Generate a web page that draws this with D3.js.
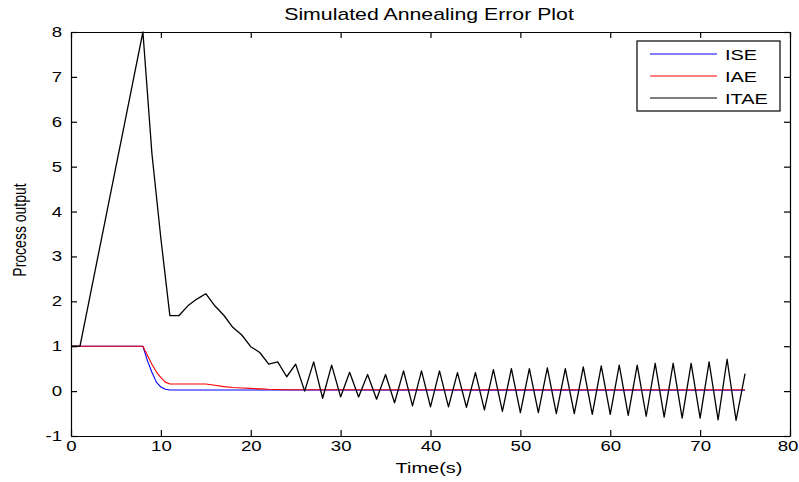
<!DOCTYPE html>
<html>
<head>
<meta charset="utf-8">
<script src="https://cdn.jsdelivr.net/npm/d3@7"></script>
<style>
  body { margin: 0; background: #fff; }
  svg text { font-family: "Liberation Sans", Arial, sans-serif; fill: #000; }
</style>
</head>
<body>
<div id="chart"></div>
<script>
// axis ticks
const xTicks = [0, 10, 20, 30, 40, 50, 60, 70, 80];
const yTicks = [-1, 0, 1, 2, 3, 4, 5, 6, 7, 8];

const seriesNames = ["ISE", "IAE", "ITAE"];
const seriesColors = ["#0000ff", "#ff0000", "#000000"];

// ISE (blue)
const iseTime  = [0, 8, 8.5, 9, 9.5, 10, 10.5, 11, 75];
const iseValue = [1, 1, 0.68, 0.42, 0.2, 0.09, 0.04, 0.025, 0.02];

// IAE (red)
const iaeTime  = [0, 8, 8.5, 9, 9.5, 10, 10.5, 11, 15, 16, 17, 18, 19, 20, 21, 22, 24, 75];
const iaeValue = [1, 1, 0.8, 0.6, 0.43, 0.3, 0.2, 0.16, 0.16, 0.13, 0.1, 0.08, 0.07, 0.06, 0.05, 0.04, 0.03, 0.03];

// ITAE (black)
const itaeTime = [0, 1, 2, 3, 4, 5, 6, 7, 8, 9, 10, 11, 12, 13, 14, 15, 16, 17, 18, 19,
  20, 21, 22, 23, 24, 25, 26, 27, 28, 29, 30, 31, 32, 33, 34, 35, 36, 37, 38, 39,
  40, 41, 42, 43, 44, 45, 46, 47, 48, 49, 50, 51, 52, 53, 54, 55, 56, 57, 58, 59,
  60, 61, 62, 63, 64, 65, 66, 67, 68, 69, 70, 71, 72, 73, 74, 75];
const itaeValue = [1, 1, 2, 3, 4, 5, 6, 7, 8, 5.3, 3.4, 1.68, 1.68, 1.9, 2.05, 2.17, 1.9, 1.69, 1.42, 1.25,
  0.99, 0.86, 0.6, 0.65, 0.32, 0.6, 0.0, 0.65, -0.16, 0.58, -0.13, 0.42, -0.13, 0.37, -0.18, 0.37, -0.26, 0.45, -0.33, 0.45,
  -0.35, 0.45, -0.35, 0.41, -0.36, 0.41, -0.42, 0.48, -0.45, 0.5, -0.48, 0.5, -0.48, 0.52, -0.5, 0.5, -0.5, 0.54, -0.52, 0.56,
  -0.52, 0.58, -0.54, 0.58, -0.56, 0.62, -0.58, 0.62, -0.6, 0.62, -0.6, 0.65, -0.64, 0.71, -0.65, 0.39];

const seriesTimes = [iseTime, iaeTime, itaeTime];
const seriesValues = [iseValue, iaeValue, itaeValue];

// the picture is stretched sideways, so text is too
const sx = 1.33;

const margin = { top: 32, right: 9, bottom: 46, left: 71 },
      width = 799 - margin.left - margin.right,
      height = 482 - margin.top - margin.bottom;

const root = d3.select("#chart")
  .append("svg")
  .attr("width", 799)
  .attr("height", 482);

const svg = root.append("g")
  .attr("transform", `translate(${margin.left},${margin.top})`);

const x = d3.scaleLinear().domain([0, 80]).range([0, width]);
const y = d3.scaleLinear().domain([-1, 8]).range([height, 0]);

// data lines
const line = d3.line()
  .x(d => x(d[0]))
  .y(d => y(d[1]));

seriesNames.forEach((name, i) => {
  const pts = seriesTimes[i].map((t, j) => [t, seriesValues[i][j]]);
  svg.append("path")
    .datum(pts)
    .attr("fill", "none")
    .attr("stroke", seriesColors[i])
    .attr("stroke-width", i == 2 ? 1.3 : 1.1)
    .attr("stroke-linejoin", "round")
    .attr("d", line);
});

// axes, ticks pointing inwards on all four sides
const xAxis = svg.append("g")
  .attr("transform", `translate(0,${height})`)
  .call(d3.axisBottom(x).tickValues(xTicks).tickSizeInner(-6).tickSizeOuter(0).tickPadding(5)
    .tickFormat(d => String(d)));

const yAxis = svg.append("g")
  .call(d3.axisLeft(y).tickValues(yTicks).tickSizeInner(-6).tickSizeOuter(0)
    .tickFormat(d => String(d)));

svg.append("g")
  .call(d3.axisTop(x).tickValues(xTicks).tickSizeInner(-6).tickSizeOuter(0).tickFormat(""));

svg.append("g")
  .attr("transform", `translate(${width},0)`)
  .call(d3.axisRight(y).tickValues(yTicks).tickSizeInner(-6).tickSizeOuter(0).tickFormat(""));

root.selectAll(".domain, .tick line").attr("stroke", "#000").attr("stroke-width", 1.2);

xAxis.selectAll("text")
  .attr("font-size", 14)
  .attr("font-family", null)
  .attr("x", d => d == 80 ? -2.5 / sx : 0)
  .attr("transform", `scale(${sx},1)`);

yAxis.selectAll("text")
  .attr("font-size", 14)
  .attr("font-family", null)
  .attr("x", -9 / sx)
  .attr("transform", `scale(${sx},1)`);

// titles
root.append("text")
  .attr("transform", `translate(429,20) scale(${sx},1)`)
  .attr("text-anchor", "middle")
  .attr("font-size", 16)
  .text("Simulated Annealing Error Plot");

root.append("text")
  .attr("transform", `translate(429,473) scale(${sx},1)`)
  .attr("text-anchor", "middle")
  .attr("font-size", 15)
  .text("Time(s)");

root.append("text")
  .attr("transform", `translate(26,230) scale(${sx},1) rotate(-90)`)
  .attr("text-anchor", "middle")
  .attr("font-size", 14)
  .text("Process output");

// legend
const legend = root.append("g");

legend.append("rect")
  .attr("x", 637)
  .attr("y", 41)
  .attr("width", 143)
  .attr("height", 70)
  .attr("fill", "#fff")
  .attr("stroke", "#000")
  .attr("stroke-width", 1.2);

const item = legend.selectAll(".item")
  .data(seriesNames)
  .enter()
  .append("g")
  .attr("class", "item")
  .attr("transform", (d, i) => `translate(0,${54 + i * 22})`);

item.append("line")
  .attr("x1", 650)
  .attr("x2", 717)
  .attr("stroke", (d, i) => seriesColors[i])
  .attr("stroke-width", 1.2);

item.append("text")
  .attr("transform", `translate(725,5.5) scale(${sx},1)`)
  .attr("font-size", 15)
  .text(d => d);
</script>
</body>
</html>
